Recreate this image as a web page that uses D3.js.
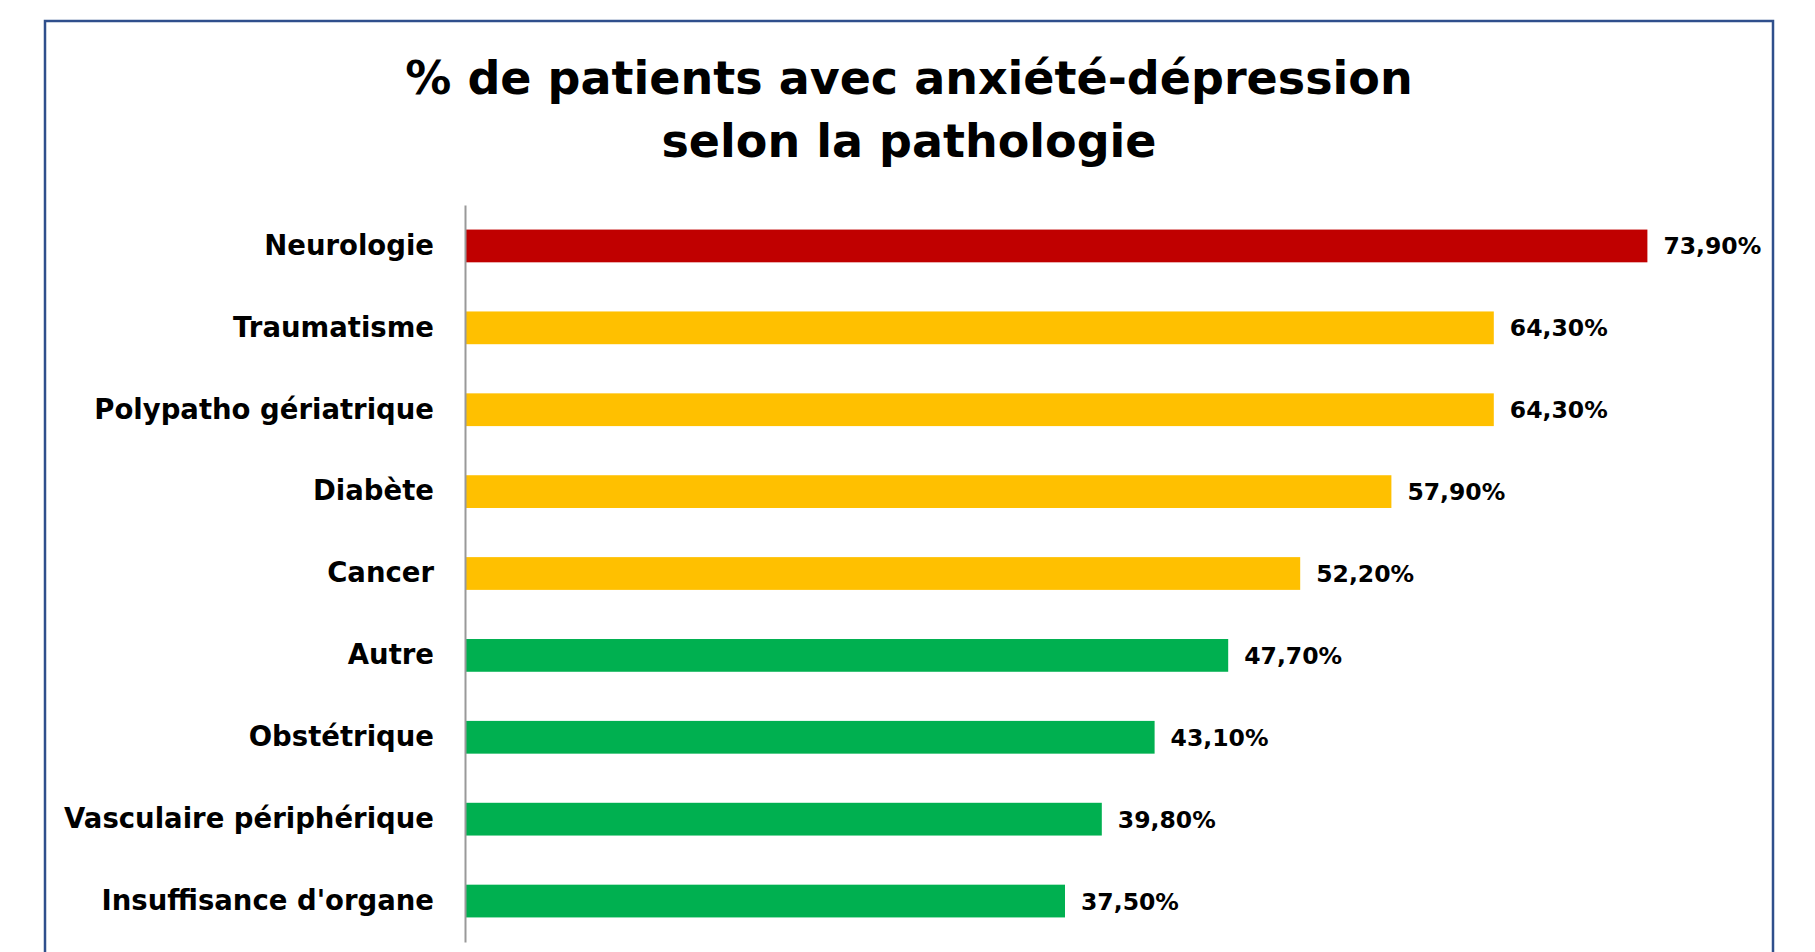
<!DOCTYPE html>
<html>
<head>
<meta charset="utf-8">
<script src="https://cdn.jsdelivr.net/npm/d3@7"></script>
<style>
  body { margin: 0; background: #fff; }
  text { font-family: 'DejaVu Sans', sans-serif; font-weight: bold; fill: #000; }
</style>
</head>
<body>
<svg id="svg" width="1815" height="952"></svg>
<script>
const categories = ['Neurologie', 'Traumatisme', 'Polypatho gériatrique', 'Diabète', 'Cancer',
  'Autre', 'Obstétrique', 'Vasculaire périphérique', "Insuffisance d'organe"]
const values = [73.9, 64.3, 64.3, 57.9, 52.2, 47.7, 43.1, 39.8, 37.5]
const groups = ['rouge', 'orange', 'orange', 'orange', 'orange', 'vert', 'vert', 'vert', 'vert']
const titleLines = ['% de patients avec anxiété-dépression', 'selon la pathologie']

const colors = { rouge: '#C00000', orange: '#FFC000', vert: '#00B050' }
const data = categories.map((name, i) => ({ name, value: values[i], group: groups[i] }))

const svg = d3.select('#svg')

// cadre
svg.append('rect')
  .attr('x', 45).attr('y', 21)
  .attr('width', 1728).attr('height', 960)
  .attr('fill', 'none')
  .attr('stroke', '#2F4F8C')
  .attr('stroke-width', 2.5)

const title = svg.append('text')
  .attr('text-anchor', 'middle')
  .style('font-size', '46px')
title.selectAll('tspan')
  .data(titleLines)
  .enter()
  .append('tspan')
  .attr('x', 909)
  .attr('y', (d, i) => 94 + i * 63)
  .text(d => d)

const xScale = d3.scaleLinear()
  .domain([0, 80])
  .range([465, 1745])

const yScale = d3.scaleBand()
  .domain(categories)
  .range([205, 942])
  .paddingInner(0.6)
  .paddingOuter(0.3)

svg.append('g')
  .selectAll('rect')
  .data(data)
  .enter()
  .append('rect')
  .attr('x', xScale(0))
  .attr('y', d => yScale(d.name))
  .attr('width', d => xScale(d.value) - xScale(0))
  .attr('height', yScale.bandwidth())
  .attr('fill', d => colors[d.group])

const leftAxis = d3.axisLeft(yScale).tickSize(0).tickPadding(31)
const axisG = svg.append('g')
  .attr('transform', `translate(${xScale(0)}, 0)`)
  .call(leftAxis)
axisG.select('.domain').attr('stroke', '#999').attr('stroke-width', 2)
axisG.selectAll('text')
  .style('font-size', '27.5px')
  .style('font-family', "'DejaVu Sans', sans-serif")
  .attr('fill', '#000')

const fmt = v => v.toFixed(2).replace('.', ',') + '%'

svg.append('g')
  .selectAll('text')
  .data(data)
  .enter()
  .append('text')
  .attr('x', d => xScale(d.value) + 16)
  .attr('y', d => yScale(d.name) + yScale.bandwidth() / 2)
  .attr('dy', '0.36em')
  .style('font-size', '23.5px')
  .text(d => fmt(d.value))
</script>
</body>
</html>
